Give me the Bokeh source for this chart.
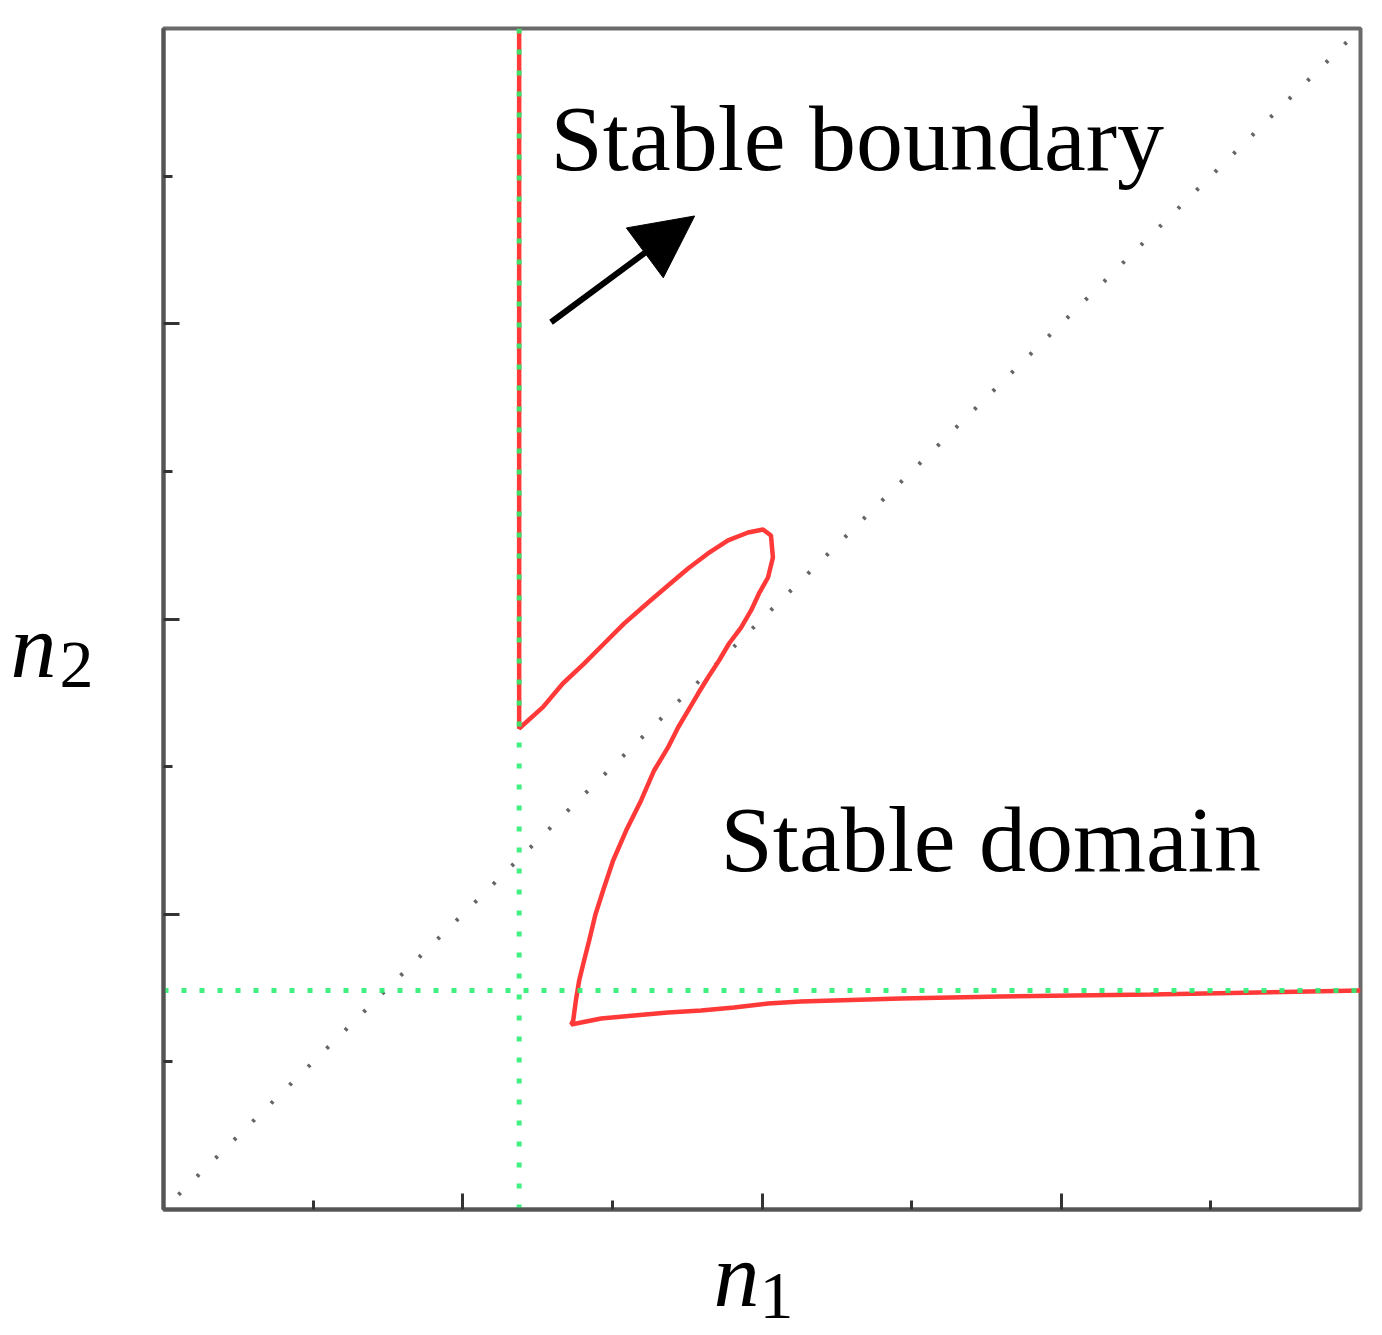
from bokeh.plotting import figure
from bokeh.models import (FixedTicker, Label, Arrow, NormalHead, CustomJSTickFormatter,
                          LinearAxis)
from bokeh.embed import file_html
from bokeh.resources import INLINE

# ---- data (in axis units, axes 0..8) ----
x_range = (0, 8)
y_range = (0, 8)
major_ticks = [2, 4, 6]
minor_ticks = [1, 3, 5, 7]

# stable boundary (red curve)
boundary_x = [2.377, 2.377, 2.536, 2.669, 2.811, 2.945, 3.078, 3.239, 3.372, 3.506, 3.639,
              3.773, 3.907, 4.007, 4.060, 4.073, 4.040, 3.980, 3.927, 3.860, 3.780, 3.713,
              3.639, 3.573, 3.506, 3.439, 3.372, 3.279, 3.192, 3.092, 3.005, 2.938, 2.885,
              2.845, 2.811, 2.778, 2.758, 2.738, 2.725, 2.925, 3.145, 3.372, 3.593, 3.813,
              4.040, 4.260, 4.481, 4.928, 5.596, 6.598, 8.0]
boundary_y = [8.0, 3.258, 3.403, 3.563, 3.698, 3.834, 3.969, 4.112, 4.227, 4.342, 4.444,
              4.532, 4.586, 4.606, 4.566, 4.417, 4.281, 4.173, 4.058, 3.942, 3.834, 3.719,
              3.604, 3.495, 3.380, 3.265, 3.130, 2.974, 2.771, 2.567, 2.364, 2.161, 1.992,
              1.822, 1.687, 1.551, 1.429, 1.280, 1.253, 1.294, 1.314, 1.334, 1.348, 1.368,
              1.395, 1.409, 1.416, 1.429, 1.443, 1.456, 1.484]

# green dotted reference lines
green_v_x = [2.377, 2.377]
green_v_y = [0.0, 8.0]
green_h_x = [0.0, 8.0]
green_h_y = [1.484, 1.484]

# diagonal n1 = n2
diag = [0.10, 7.97]

# arrow (start -> end)
arrow_start = (2.59, 6.01)
arrow_end = (3.55, 6.73)

# text annotations
label_texts = ["Stable boundary", "Stable domain"]
label_x = [2.587, 3.723]
label_y = [7.26, 2.51]

# axis titles: italic variable + upright subscript
x_title = ("n", "1")
x_title_pos = (3.83, 4.097)
y_title = ("n", "2")
y_title_pos = (3.817, 3.69)

p = figure(frame_width=1197, frame_height=1181, x_range=x_range, y_range=y_range,
           output_backend="svg", toolbar_location=None,
           min_border_left=163, min_border_right=10, min_border_top=28, min_border_bottom=122,
           background_fill_color="white", border_fill_color="white")
p.grid.visible = False
p.outline_line_color = "#6a6a6a"
p.outline_line_width = 4

for ax in list(p.xaxis) + list(p.yaxis):
    ax.ticker = FixedTicker(ticks=major_ticks, minor_ticks=minor_ticks)
    ax.formatter = CustomJSTickFormatter(code="return ''")
    ax.major_tick_in = 16
    ax.major_tick_out = 0
    ax.minor_tick_in = 9
    ax.minor_tick_out = 0
    ax.major_tick_line_width = 3
    ax.minor_tick_line_width = 3
    ax.major_tick_line_color = "#333333"
    ax.minor_tick_line_color = "#333333"
    ax.axis_line_color = "#555555"
    ax.axis_line_width = 4
    ax.major_label_standoff = 0


def title_axis(pos, text, size, style, standoff):
    a = LinearAxis(ticker=FixedTicker(ticks=[pos], minor_ticks=[]),
                   formatter=CustomJSTickFormatter(code="return %r" % text))
    a.axis_line_color = None
    a.major_tick_line_color = None
    a.minor_tick_line_color = None
    a.major_tick_in = 0
    a.major_tick_out = 0
    a.major_label_standoff = standoff
    a.major_label_text_font = "Liberation Serif"
    a.major_label_text_font_size = size
    a.major_label_text_font_style = style
    a.major_label_text_color = "black"
    return a


# bottom title: subscript "1" (inner axis) then "n" (outer axis, pulled back up)
p.add_layout(title_axis(x_title_pos[1], x_title[1], "68px", "normal", 64), "below")
p.add_layout(title_axis(x_title_pos[0], x_title[0], "92px", "italic", -97), "below")
# left title: subscript "2" (inner) then "n" (outer)
p.add_layout(title_axis(y_title_pos[1], y_title[1], "68px", "normal", 70), "left")
p.add_layout(title_axis(y_title_pos[0], y_title[0], "92px", "italic", 0), "left")

# diagonal dotted
p.line(diag, diag, line_color="#666666", line_width=4, line_dash="3 23")

# red boundary
p.line(boundary_x, boundary_y, line_color="#ff3838", line_width=4.5)

# green dotted lines
p.line(green_v_x, green_v_y, line_color="#2bee72", line_width=5, line_dash="5 16", line_alpha=0.9)
p.line(green_h_x, green_h_y, line_color="#2bee72", line_width=5, line_dash="5 13", line_alpha=0.9)

# arrow
p.add_layout(Arrow(end=NormalHead(size=62, fill_color="black", line_color="black"),
                   x_start=arrow_start[0], y_start=arrow_start[1],
                   x_end=arrow_end[0], y_end=arrow_end[1],
                   line_color="black", line_width=6))

for t, lx, ly in zip(label_texts, label_x, label_y):
    p.add_layout(Label(x=lx, y=ly, text=t, text_font="Liberation Serif",
                       text_font_size="94px", text_color="black",
                       text_baseline="alphabetic", text_align="left"))

open("out.html", "w").write(file_html(p, INLINE))
